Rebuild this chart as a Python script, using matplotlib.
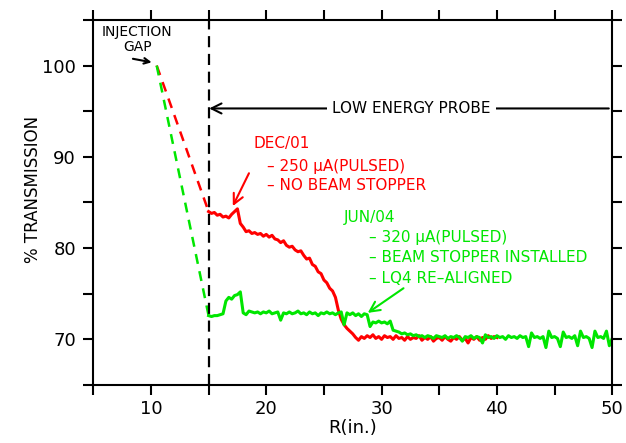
"""
Transmission vs radius, DEC/01 vs JUN/04 runs.
"""
import numpy as np
import matplotlib.pyplot as plt
from matplotlib.ticker import MultipleLocator, FuncFormatter

RED = "#ff0000"
GREEN = "#00e600"

# injection gap -> probe start (dashed)
gap_x = [10.5, 15.0]
red_gap_y = [100.0, 84.0]
green_gap_y = [100.0, 72.6]

# probe data, 0.25 in. steps
red_x = np.arange(15.0, 40.01, 0.25)
red_y = [
  84.0, 83.8, 83.9, 83.6,
  83.7, 83.4, 83.5, 83.3,
  83.7, 84.0, 84.3, 82.7,
  82.3, 81.8, 81.9, 81.6,
  81.7, 81.5, 81.6, 81.3,
  81.5, 81.2, 81.4, 81.0,
  80.9, 80.6, 80.8, 80.3,
  80.1, 80.2, 79.8, 79.6,
  79.7, 79.2, 78.8, 78.9,
  78.2, 78.0, 77.4, 77.2,
  76.5, 76.2, 75.6, 75.3,
  74.6, 73.2, 72.2, 71.6,
  71.2, 70.9, 70.6, 70.2,
  69.9, 70.3, 70.1, 70.4,
  70.2, 70.5, 70.1, 70.3,
  70.0, 70.4, 70.2, 70.3,
  70.0, 70.4, 70.1, 70.2,
  69.9, 70.3, 70.0, 70.2,
  70.1, 70.4, 69.9, 70.2,
  70.0, 70.3, 69.8, 70.1,
  70.2, 69.9, 70.3, 70.0,
  69.8, 70.2, 70.0, 70.3,
  69.9, 70.1, 69.6, 70.2,
  70.0, 70.3, 69.9, 70.2,
  70.0, 70.4, 70.1, 70.3,
  70.2,
]

green_x = np.arange(15.0, 50.01, 0.25)
green_y = [
  72.6, 72.5, 72.6, 72.6,
  72.7, 72.8, 74.2, 74.6,
  74.4, 74.8, 74.9, 75.2,
  72.9, 72.7, 73.1, 73.0,
  72.9, 73.0, 72.8, 73.0,
  72.9, 73.1, 72.8, 72.9,
  73.0, 72.1, 72.9, 72.8,
  73.0, 72.8, 72.9, 73.1,
  72.8, 72.9, 72.7, 73.0,
  72.8, 72.9, 72.6, 72.9,
  72.8, 73.0, 72.8, 72.9,
  72.7, 72.9, 73.0, 71.6,
  72.9, 72.7, 72.9, 72.6,
  72.8, 72.5, 72.8, 72.7,
  71.4, 71.9, 71.8, 72.0,
  71.8, 71.9, 71.7, 72.0,
  71.0, 70.9, 70.8, 70.6,
  70.7, 70.5, 70.6, 70.4,
  70.5, 70.3, 70.4, 70.2,
  70.4, 70.3, 70.1, 70.4,
  70.3, 70.2, 70.4, 70.1,
  70.3, 70.2, 70.4, 70.2,
  69.8, 70.3, 70.2, 70.4,
  70.1, 70.3, 70.2, 69.6,
  70.5, 70.2, 70.3, 70.1,
  70.4, 70.2, 70.3, 70.0,
  70.4, 70.2, 70.3, 70.1,
  70.4, 70.2, 70.3, 69.2,
  70.7, 70.2, 70.3, 70.1,
  70.3, 69.1, 70.9, 70.2,
  70.3, 70.1, 69.2, 70.8,
  70.2, 70.3, 70.1, 70.4,
  69.3, 70.9, 70.2, 70.3,
  70.1, 69.1, 70.9, 70.2,
  70.3, 70.1, 70.9, 69.3,
  70.1,
]

dec_lines = ["DEC/01", "\u2013 250 \u03bcA(PULSED)", "\u2013 NO BEAM STOPPER"]
jun_lines = ["JUN/04", "\u2013 320 \u03bcA(PULSED)",
             "\u2013 BEAM STOPPER INSTALLED", "\u2013 LQ4 RE\u2013ALIGNED"]

fig = plt.figure(figsize=(6.26, 4.43), dpi=100)
ax = fig.add_axes([0.149, 0.131, 0.829, 0.824])

ax.plot(gap_x, red_gap_y, color=RED, lw=1.8, dashes=(4, 3))
ax.plot(gap_x, green_gap_y, color=GREEN, lw=1.8, dashes=(4, 3))
ax.plot(red_x, red_y, color=RED, lw=2.2)
ax.plot(green_x, green_y, color=GREEN, lw=2.2)

# start of low energy probe
ax.axvline(15, color="black", lw=1.6, dashes=(5, 3))

ax.set_xlim(5, 50)
ax.set_ylim(65, 105)

for side in ["left", "right", "top", "bottom"]:
  ax.spines[side].set_linewidth(1.5)
ax.xaxis.set_major_locator(MultipleLocator(5))
ax.yaxis.set_major_locator(MultipleLocator(5))
ax.xaxis.set_major_formatter(
  FuncFormatter(lambda v, p: f"{v:.0f}" if round(v) % 10 == 0 else ""))
ax.yaxis.set_major_formatter(
  FuncFormatter(lambda v, p: f"{v:.0f}" if round(v) % 10 == 0 and 66 < v < 104 else ""))
ax.tick_params(direction="out", length=7.5, width=1.5, labelsize=13,
               top=True, right=True)
ax.tick_params(axis="x", pad=3)
ax.tick_params(axis="y", pad=5)

ax.set_xlabel("R(in.)", fontsize=13)
ax.set_ylabel("% TRANSMISSION", fontsize=12)
ax.xaxis.set_label_coords(0.5, -0.092)
ax.yaxis.set_label_coords(-0.098, 0.535)

# annotations
ax.text(8.8, 103.7, "INJECTION", fontsize=10, ha="center", va="center")
ax.text(8.8, 102.0, "GAP", fontsize=10, ha="center", va="center")
ax.annotate("", xy=(10.3, 100.3), xytext=(8.2, 100.8),
            arrowprops=dict(arrowstyle="->", color="black", lw=1.5))

ax.annotate("", xy=(15.05, 95.3), xytext=(49.7, 95.3),
            arrowprops=dict(arrowstyle="->", color="black", lw=1.5,
                            mutation_scale=18, shrinkA=0, shrinkB=0))
ax.text(32.6, 95.3, "LOW ENERGY PROBE", fontsize=11, ha="center", va="center",
        bbox=dict(facecolor="white", edgecolor="none", pad=4))

ax.text(18.9, 91.5, dec_lines[0], color=RED, fontsize=11, va="center")
for i, line in enumerate(dec_lines[1:]):
  ax.text(20.1, 88.9 - 2.0 * i, line, color=RED, fontsize=11, va="center")
ax.annotate("", xy=(17.1, 84.6), xytext=(18.5, 88.2),
            arrowprops=dict(arrowstyle="->", color=RED, lw=1.5,
                            mutation_scale=18, shrinkA=0, shrinkB=0))

ax.text(26.7, 83.3, jun_lines[0], color=GREEN, fontsize=11, va="center")
for i, line in enumerate(jun_lines[1:]):
  ax.text(28.9, 81.2 - 2.25 * i, line, color=GREEN, fontsize=11, va="center")
ax.annotate("", xy=(28.8, 72.9), xytext=(31.9, 75.6),
            arrowprops=dict(arrowstyle="->", color=GREEN, lw=1.5,
                            mutation_scale=18, shrinkA=0, shrinkB=0))

fig.savefig("out.png", dpi=100)
